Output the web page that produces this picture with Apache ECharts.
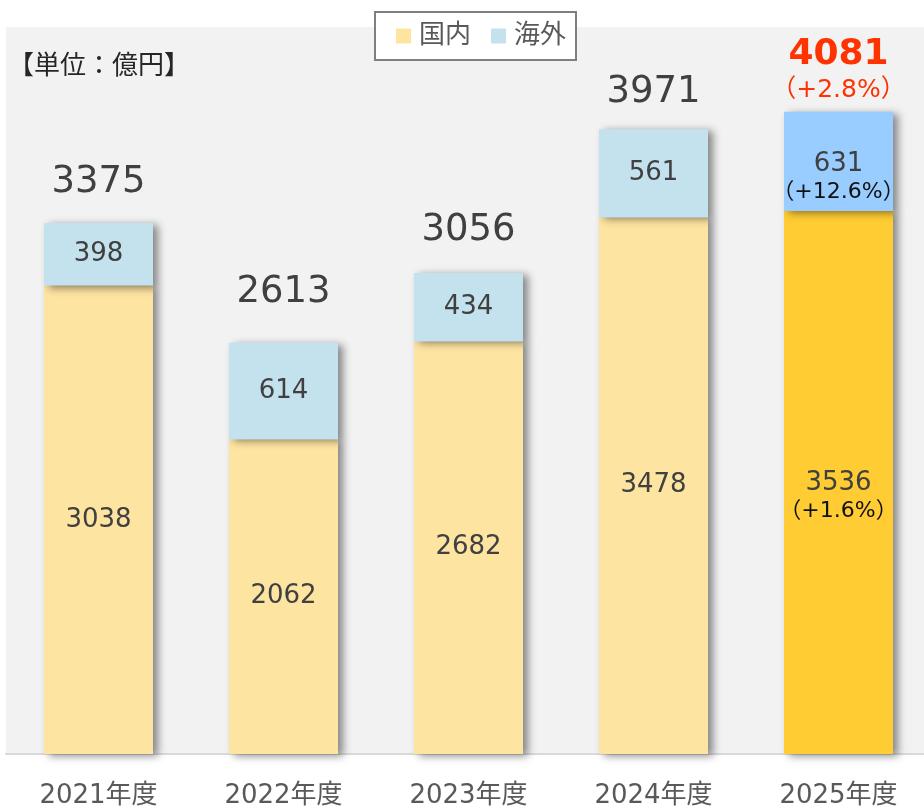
<!DOCTYPE html>
<html>
<head>
<meta charset="utf-8">
<script src="https://cdn.jsdelivr.net/npm/echarts@6/dist/echarts.min.js"></script>
<style>
html,body{margin:0;padding:0;background:#fff;overflow:hidden;}
#chart{width:931px;height:809px;}
</style>
</head>
<body>
<div id="chart"></div>
<script>
// ---- data ----
const categories = ['2021年度', '2022年度', '2023年度', '2024年度', '2025年度'];
const domestic = [3038, 2062, 2682, 3478, 3536];   // reported domestic (labels)
const overseas = [398, 614, 434, 561, 631];
const totals = [3375, 2613, 3056, 3971, 4081];
const growthTotal = '（+2.8%）';
const growthOverseas = '（+12.6%）';
const growthDomestic = '（+1.6%）';
const legendNames = ['国内', '海外'];

// bars drawn as total − overseas (as in the original chart)
const domesticBar = totals.map((t, i) => t - overseas[i]);

const FONT = 'DejaVu Sans, "Noto Sans CJK JP", sans-serif';
const C_DOM = '#fee4a1', C_OVS = '#c3e2ed', C_DOM25 = '#ffcc33', C_OVS25 = '#99ccff';
const shadow = {shadowBlur: 8, shadowOffsetX: 5, shadowOffsetY: 2, shadowColor: 'rgba(0,0,0,0.45)'};
const last = categories.length - 1;
// small vertical nudges of the total labels (style only)
const totalLabelNudge = {1: -10, 2: -2, 3: 4};

const rich = {
  v: {fontSize: 26, color: '#404040', fontFamily: FONT, lineHeight: 30},
  p: {fontSize: 22, color: '#111', fontFamily: FONT, lineHeight: 26}
};

const chart = echarts.init(document.getElementById('chart'));
chart.setOption({
  animation: false,
  backgroundColor: '#fff',
  grid: {left: 6, top: 27, width: 925, height: 727, show: true, backgroundColor: '#f2f2f2', borderWidth: 0},
  legend: {
    data: legendNames,
    icon: 'rect',
    left: 375, top: 12,
    backgroundColor: '#fff', borderColor: '#7f7f7f', borderWidth: 2,
    padding: [11, 10, 11, 21],
    itemWidth: 15, itemHeight: 15, itemGap: 20,
    textStyle: {fontSize: 26, color: '#595959', fontFamily: FONT, padding: [0, 0, 0, 3]}
  },
  graphic: [{
    type: 'text', left: 8, top: 51,
    style: {text: '【単位：億円】', fontSize: 26, fill: '#262626', fontFamily: '"Noto Sans CJK JP", sans-serif'}
  }],
  xAxis: {
    type: 'category', data: categories,
    axisLine: {lineStyle: {color: '#d9d9d9', width: 2}},
    axisTick: {length: 10, lineStyle: {color: '#d9d9d9', width: 2}},
    axisLabel: {fontSize: 26, color: '#595959', fontFamily: FONT, margin: 29}
  },
  yAxis: {type: 'value', min: 0, max: 4620, show: false, splitLine: {show: false}},
  series: [
    {
      name: '国内', type: 'bar', stack: 'a', barWidth: 109,
      itemStyle: Object.assign({color: C_DOM}, shadow),
      label: {show: true, position: 'inside', fontSize: 26, color: '#404040', fontFamily: FONT, textBorderWidth: 0,
        formatter: p => String(domestic[p.dataIndex])},
      data: domesticBar.map((v, i) => i === last ? {
        value: v, itemStyle: {color: C_DOM25},
        label: {formatter: '{v|' + domestic[i] + '}\n{p|' + growthDomestic + '}', rich: rich, offset: [0, 14]}
      } : v)
    },
    {
      name: '海外', type: 'bar', stack: 'a', barWidth: 109,
      itemStyle: Object.assign({color: C_OVS}, shadow),
      label: {show: true, position: 'inside', fontSize: 26, color: '#404040', fontFamily: FONT, textBorderWidth: 0},
      data: overseas.map((v, i) => i === last ? {
        value: v, itemStyle: {color: C_OVS25},
        label: {formatter: '{v|' + v + '}\n{p|' + growthOverseas + '}', rich: rich, offset: [0, 16]}
      } : v)
    },
    {
      name: 'total', type: 'scatter', symbolSize: 0, silent: true, z: 5,
      itemStyle: {opacity: 1},
      label: {show: true, position: 'top', distance: 22, fontSize: 37, color: '#404040', fontFamily: FONT, textBorderWidth: 0},
      data: totals.map((v, i) => i === last ? {
        value: v,
        label: {
          distance: 5,
          formatter: '{a|' + v + '}\n{b|' + growthTotal + '}',
          rich: {
            a: {fontSize: 36, fontWeight: 'bold', color: '#ff3300', fontFamily: FONT, lineHeight: 40, textBorderWidth: 0},
            b: {fontSize: 25, color: '#ff3300', fontFamily: FONT, lineHeight: 32, textBorderWidth: 0}
          }
        }
      } : (totalLabelNudge[i] ? {value: v, label: {offset: [0, totalLabelNudge[i]]}} : v))
    }
  ]
});
</script>
</body>
</html>
